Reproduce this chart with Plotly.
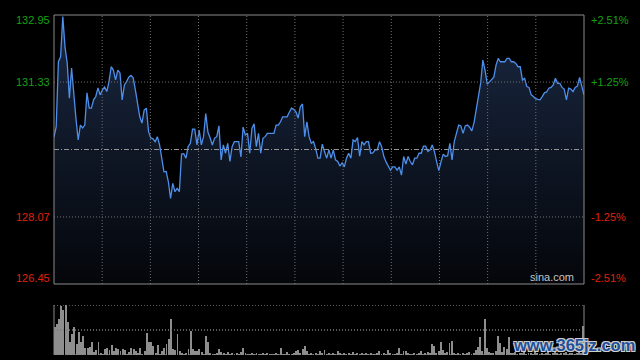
import plotly.graph_objects as go

# ---------------- data ----------------
prices = [
    130.00, 130.25, 131.82, 131.94, 132.91, 132.18, 131.79, 130.94, 131.67, 130.97,
    130.44, 129.93, 130.29, 130.22, 130.29, 131.07, 130.70, 130.70, 130.90, 130.98,
    131.19, 131.02, 131.14, 131.21, 131.10, 131.34, 131.70, 131.62, 131.38, 131.62,
    131.55, 130.90, 131.26, 131.34, 131.45, 131.49, 131.43, 131.14, 130.78, 130.49,
    130.34, 130.65, 130.70, 130.13, 129.98, 129.96, 129.89, 130.01, 129.81, 129.53,
    129.16, 129.17, 128.92, 128.52, 128.88, 128.68, 128.76, 128.68, 129.59, 129.60,
    129.49, 129.77, 129.85, 130.19, 130.19, 129.81, 130.17, 129.81, 130.01, 130.57,
    130.12, 129.98, 129.81, 129.97, 130.01, 130.27, 129.45, 129.81, 129.61, 129.85,
    129.41, 129.77, 129.89, 129.89, 129.89, 129.52, 130.24, 130.05, 130.09, 129.61,
    130.21, 130.32, 129.77, 130.09, 129.61, 129.97, 130.01, 130.09, 130.09, 130.09,
    130.09, 130.29, 130.29, 130.37, 130.49, 130.49, 130.49, 130.60, 130.70, 130.67,
    130.61, 130.46, 130.73, 130.80, 130.01, 130.37, 130.01, 129.85, 129.89, 129.72,
    129.49, 129.49, 129.83, 129.65, 129.49, 129.69, 129.49, 129.69, 129.45, 129.41,
    129.30, 129.38, 129.28, 129.49, 129.61, 129.49, 129.93, 129.89, 129.99, 129.54,
    129.89, 129.81, 129.89, 129.89, 129.61, 129.62, 129.69, 129.69, 129.89, 129.77,
    129.53, 129.40, 129.28, 129.20, 129.28, 129.28, 129.20, 129.28, 129.08, 129.53,
    129.35, 129.53, 129.41, 129.33, 129.49, 129.49, 129.61, 129.61, 129.78, 129.78,
    129.65, 129.69, 129.81, 129.65, 129.40, 129.19, 129.41, 129.59, 129.53, 129.55,
    129.85, 129.45, 129.89, 130.10, 130.29, 130.27, 130.09, 130.27, 130.29, 130.24,
    130.15, 130.35, 130.65, 130.94, 131.30, 131.86, 131.62, 131.28, 131.34, 131.38,
    131.45, 131.74, 131.90, 131.82, 131.82, 131.82, 131.90, 131.90, 131.82, 131.82,
    131.78, 131.70, 131.70, 131.38, 131.42, 131.22, 131.20, 131.02, 130.98, 130.93,
    130.91, 130.90, 130.98, 131.07, 131.09, 131.18, 131.20, 131.26, 131.42, 131.30,
    131.30, 131.20, 131.16, 130.90, 131.18, 131.16, 131.10, 131.20, 131.23, 131.44,
    131.23, 131.02,
]

volumes = [
    56, 62, 73, 98, 90, 100, 66, 26, 43, 56,
    22, 46, 26, 39, 14, 14, 17, 26, 6, 10,
    26, 5, 3, 12, 14, 10, 21, 8, 15, 12,
    8, 12, 10, 2, 6, 15, 12, 8, 5, 14,
    3, 8, 44, 26, 26, 19, 4, 20, 3, 9,
    14, 22, 32, 72, 12, 10, 43, 9, 5, 3,
    4, 12, 49, 12, 8, 9, 12, 7, 3, 39,
    26, 4, 3, 2, 4, 12, 7, 5, 3, 6,
    3, 4, 2, 5, 3, 6, 14, 5, 3, 2,
    4, 3, 5, 2, 3, 4, 2, 5, 3, 2,
    3, 4, 2, 14, 3, 2, 7, 3, 2, 4,
    9, 10, 4, 12, 19, 9, 3, 4, 2, 5,
    3, 9, 4, 11, 3, 5, 2, 4, 3, 9,
    4, 2, 5, 3, 4, 2, 7, 3, 5, 2,
    4, 3, 5, 2, 4, 3, 2, 5, 9, 3,
    4, 2, 11, 4, 3, 2, 5, 14, 3, 9,
    9, 4, 3, 2, 4, 3, 5, 8, 3, 4,
    6, 5, 22, 18, 5, 8, 26, 10, 4, 6,
    24, 28, 5, 3, 4, 2, 5, 3, 4, 6,
    3, 5, 10, 17, 37, 8, 72, 14, 6, 5,
    4, 8, 38, 24, 6, 16, 12, 36, 5, 4,
    6, 3, 5, 4, 7, 3, 4, 5, 3, 6,
    4, 3, 5, 2, 4, 6, 3, 5, 8, 4,
    3, 5, 4, 6, 3, 4, 5, 3, 4, 6,
    5, 58,
]

minutes = list(range(len(prices)))
vol_minutes = list(range(len(volumes)))
total_minutes = 241

prev_close = 129.70
price_low, price_high = 126.45, 132.95
price_ticks = [132.95, 131.33, 128.07, 126.45]
price_tick_text = ["132.95", "131.33", "128.07", "126.45"]
pct_tick_text = ["+2.51%", "+1.25%", "-1.25%", "-2.51%"]
volume_max = 100

# ---------------- style ----------------
GREEN = "#14a014"
RED = "#e2200c"
GRID = "#707070"
BORDER = "#8a8a8a"
FONT = "Liberation Sans, Arial, sans-serif"

main_dom = [0.2088, 1.0]
vol_dom = [0.0, 0.1471]

fig = go.Figure()

fig.add_trace(go.Scatter(
    x=minutes, y=prices, mode="lines",
    line=dict(color="#4d8fea", width=1.3),
    fill="tozeroy",
    fillgradient=dict(type="vertical",
                      colorscale=[[0, "#04060a"], [1, "#1a2842"]],
                      start=price_low, stop=price_high),
    hoverinfo="skip", xaxis="x", yaxis="y",
))

fig.add_trace(go.Bar(
    x=vol_minutes, y=volumes, width=0.42,
    marker=dict(color="#8e8e8e", line=dict(width=0)),
    hoverinfo="skip", xaxis="x2", yaxis="y2",
))

shapes = []
# vertical dotted grid in main panel
for i in range(1, 11):
    shapes.append(dict(type="line", xref="x domain", yref="y domain",
                       x0=i / 11, x1=i / 11, y0=0, y1=1, layer="above",
                       line=dict(color=GRID, width=1, dash="1px,2px")))
# horizontal dotted grid
for v in (price_ticks[1], price_ticks[2]):
    shapes.append(dict(type="line", xref="x domain", yref="y",
                       x0=0, x1=1, y0=v, y1=v, layer="above",
                       line=dict(color=GRID, width=1, dash="1px,2px")))
# previous close dash-dot
shapes.append(dict(type="line", xref="x domain", yref="y",
                   x0=0, x1=1, y0=prev_close, y1=prev_close, layer="above",
                   line=dict(color="#959595", width=1, dash="5px,2px,1px,2px")))
# main border
shapes.append(dict(type="rect", xref="x domain", yref="y domain",
                   x0=0, x1=1, y0=0, y1=1, layer="above",
                   line=dict(color=BORDER, width=1)))
# volume panel dotted lines
for v in (volume_max, volume_max / 2, 0):
    shapes.append(dict(type="line", xref="x2 domain", yref="y2",
                       x0=0, x1=1, y0=v, y1=v, layer="above",
                       line=dict(color="#7a7a7a", width=1.3, dash="1px,2px")))
for xd in (0, 1):
    shapes.append(dict(type="line", xref="x2 domain", yref="y2 domain",
                       x0=xd, x1=xd, y0=0, y1=1, layer="above",
                       line=dict(color=BORDER, width=1)))

annotations = []
shifts = [-5, 0, 0, 6]
for v, lt, rt, ys in zip(price_ticks, price_tick_text, pct_tick_text, shifts):
    col = GREEN if v > prev_close else RED
    annotations.append(dict(xref="paper", yref="y", x=0, y=v, text=lt,
                            xanchor="right", yanchor="middle", xshift=-2, yshift=ys,
                            showarrow=False, font=dict(family=FONT, size=11, color=col)))
    annotations.append(dict(xref="paper", yref="y", x=1, y=v, text=rt,
                            xanchor="left", yanchor="middle", xshift=5, yshift=ys,
                            showarrow=False, font=dict(family=FONT, size=11, color=col)))

annotations.append(dict(xref="paper", yref="y", x=0.94, y=price_low, text="sina.com",
                        xanchor="center", yanchor="bottom", yshift=-1, showarrow=False,
                        font=dict(family=FONT, size=11, color="#c4c4c4")))
annotations.append(dict(xref="paper", yref="paper", x=0.862, y=0.03, text="<b>www.365jz.com</b>",
                        xanchor="left", yanchor="middle", showarrow=False,
                        font=dict(family=FONT, size=16.5, color="#1f4f99",
                                  shadow="1px 1px 0 #cfcfcf, -1px -1px 0 #cfcfcf, 1px -1px 0 #cfcfcf, -1px 1px 0 #cfcfcf")))

axis_common = dict(showgrid=False, zeroline=False, showticklabels=False,
                   showline=False, ticks="", fixedrange=True)

fig.update_layout(
    width=640, height=360,
    margin=dict(l=54, r=56, t=15, b=5),
    paper_bgcolor="#000000", plot_bgcolor="#000000",
    showlegend=False,
    xaxis=dict(range=[0, total_minutes], domain=[0, 1], anchor="y", **axis_common),
    yaxis=dict(range=[price_low, price_high], domain=main_dom, anchor="x", **axis_common),
    xaxis2=dict(range=[-0.3, total_minutes + 0.3], domain=[0, 1], anchor="y2", **axis_common),
    yaxis2=dict(range=[0, volume_max], domain=vol_dom, anchor="x2", **axis_common),
    shapes=shapes, annotations=annotations,
    bargap=0,
)

fig.write_html("out.html", config={"displayModeBar": False},
               post_script="document.body.style.margin='0';document.body.style.background='#000';")
